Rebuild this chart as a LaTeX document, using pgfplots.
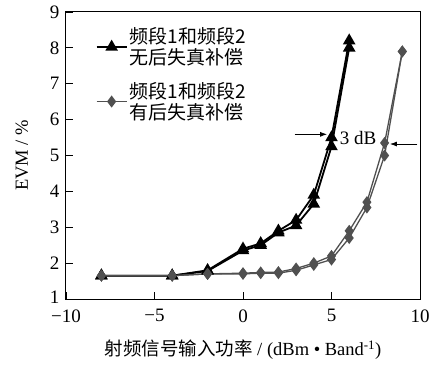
\documentclass[border=0pt]{standalone}
\usepackage{pgfplots}
\pgfplotsset{compat=1.18}
\usetikzlibrary{arrows.meta}
\usepackage{fontspec}
\setmainfont{Liberation Serif}
\newfontfamily\cjk{Noto Sans CJK SC}
\definecolor{gr}{RGB}{80,80,80}
\begin{document}
\begin{tikzpicture}
\path[use as bounding box] (-66pt,-73pt) rectangle (367pt,299pt);
\begin{axis}[
  scale only axis, width=354pt, height=287pt,
  at={(0pt,0pt)}, anchor=south west,
  xmin=-10, xmax=10, ymin=1, ymax=9,
  xtick={-10,-5,0,5,10}, xticklabels={−10,−5,0,5,10},
  ytick={1,2,3,4,5,6,7,8,9},
  yticklabels={\raisebox{3pt}{1},2,3,4,5,6,7,8,9},
  tick align=inside, xtick pos=bottom, ytick pos=left,
  major tick length=7pt,
  axis line style={line width=1pt},
  tick style={line width=0.8pt, black},
  ticklabel style={font=\fontsize{19}{20}\selectfont},
  xticklabel style={yshift=-7pt},
  yticklabel style={xshift=-3pt},
  xlabel={{\cjk 射频信号输入功率} / (dBm • Band\textsuperscript{-1})},
  xlabel style={at={(axis description cs:0.5,-0.178)}, anchor=center, font=\fontsize{18.5}{20}\selectfont},
  ylabel={EVM / \%},
  ylabel style={at={(axis description cs:-0.125,0.5)}, anchor=center, font=\fontsize{18.5}{20}\selectfont},
  legend image code/.code={\draw[mark repeat=2,mark phase=2] plot coordinates {(0pt,0pt) (15pt,0pt) (30pt,0pt)};},
  legend style={at={(rel axis cs:0.075,0.96)}, anchor=north west, draw=none, fill=none,
    font=\cjk\fontsize{19}{21}\selectfont, cells={align=left}, row sep=12pt},
]
\addplot[black, line width=1.8pt, mark=triangle*, mark size=5.5pt, mark options={solid}] coordinates {
(-8,1.65) (-4,1.65) (-2,1.78) (0,2.35) (1,2.5) (2,2.85) (3,3.05) (4,3.65) (5,5.25) (6,8.0)};
\addlegendentry{频段1和频段2\\无后失真补偿}
\addplot[black, line width=1.8pt, mark=triangle*, mark size=5.5pt, forget plot] coordinates {
(-8,1.65) (-4,1.65) (-2,1.8) (0,2.4) (1,2.55) (2,2.9) (3,3.2) (4,3.9) (5,5.5) (6,8.2)};
\addplot[gr, line width=1.3pt, mark=diamond*, mark size=5pt] coordinates {
(-8,1.65) (-4,1.65) (-2,1.7) (0,1.7) (1,1.72) (2,1.72) (3,1.8) (4,1.95) (5,2.1) (6,2.7) (7,3.55) (8,5.0) (9,7.9)};
\addlegendentry{频段1和频段2\\有后失真补偿}
\addplot[gr, line width=1.3pt, mark=diamond*, mark size=5pt, forget plot] coordinates {
(-8,1.65) (-4,1.65) (-2,1.7) (0,1.72) (1,1.74) (2,1.75) (3,1.85) (4,2.0) (5,2.2) (6,2.9) (7,3.7) (8,5.35) (9,7.9)};
\draw[-{Latex[length=7pt,width=5pt]}, line width=0.8pt] (axis cs:2.92,5.59) -- (axis cs:4.75,5.59);
\draw[-{Latex[length=7pt,width=5pt]}, line width=0.8pt] (axis cs:9.85,5.32) -- (axis cs:8.3,5.32);
\node[font=\fontsize{19}{20}\selectfont] at (axis cs:6.5,5.5) {3 dB};
\end{axis}
\end{tikzpicture}
\end{document}
